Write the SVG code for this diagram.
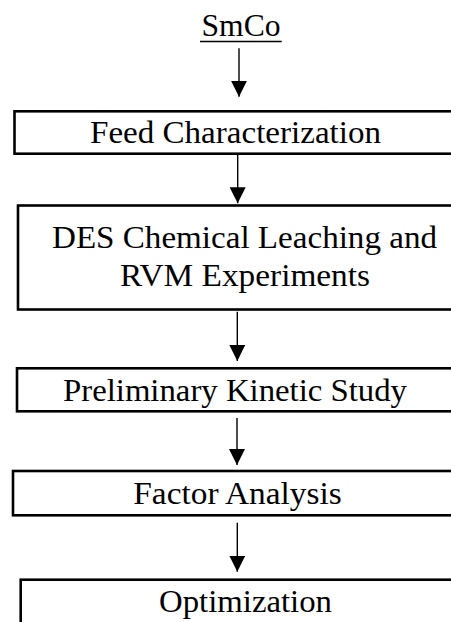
<svg xmlns="http://www.w3.org/2000/svg" width="451" height="622" viewBox="0 0 451 622">
<style>
  .box { fill: #ffffff; stroke: #000000; stroke-width: 2.6; }
  .lbl { font-family: "Liberation Serif", "Times New Roman", serif; font-size: 32px; fill: #000000; }
  .conn { stroke: #000000; stroke-width: 1.4; fill: none; marker-end: url(#arrow); }
</style>
<defs>
  <marker id="arrow" markerUnits="userSpaceOnUse" viewBox="0 0 16 16" markerWidth="16" markerHeight="16" refX="16" refY="8" orient="auto">
    <path d="M0,0 L16,8 L0,16 Z" fill="#000000"/>
  </marker>
</defs>
<rect x="0" y="0" width="451" height="622" fill="#ffffff"/>

<g id="node-smco">
  <text class="lbl" x="201.5" y="36" textLength="79" lengthAdjust="spacingAndGlyphs">SmCo</text>
  <line x1="200" y1="41.5" x2="281.7" y2="41.5" stroke="#000000" stroke-width="1.5"/>
</g>

<g id="node-feed">
  <rect class="box" x="14.5" y="111.3" width="450" height="42.4"/>
  <text class="lbl" x="90" y="142.7" textLength="291" lengthAdjust="spacingAndGlyphs">Feed Characterization</text>
</g>

<g id="node-des">
  <rect class="box" x="18" y="205.5" width="450" height="104"/>
  <text class="lbl" x="52" y="248.3" textLength="385" lengthAdjust="spacingAndGlyphs">DES Chemical Leaching and</text>
  <text class="lbl" x="120" y="285.5" textLength="250" lengthAdjust="spacingAndGlyphs">RVM Experiments</text>
</g>

<g id="node-kinetic">
  <rect class="box" x="17" y="368.3" width="450" height="43"/>
  <text class="lbl" x="63" y="400.7" textLength="344" lengthAdjust="spacingAndGlyphs">Preliminary Kinetic Study</text>
</g>

<g id="node-factor">
  <rect class="box" x="13" y="471" width="450" height="44.3"/>
  <text class="lbl" x="133.3" y="503.5" textLength="208.4" lengthAdjust="spacingAndGlyphs">Factor Analysis</text>
</g>

<g id="node-opt">
  <rect class="box" x="20.7" y="579.7" width="450" height="60"/>
  <text class="lbl" x="159" y="611.7" textLength="173" lengthAdjust="spacingAndGlyphs">Optimization</text>
</g>

<g id="connectors">
  <line class="conn" x1="239" y1="48.3" x2="239" y2="96.7"/>
  <line class="conn" x1="237.7" y1="154.5" x2="237.7" y2="203.3"/>
  <line class="conn" x1="237.3" y1="311.7" x2="237.3" y2="361"/>
  <line class="conn" x1="237" y1="418" x2="237" y2="465"/>
  <line class="conn" x1="237.3" y1="522.7" x2="237.3" y2="571.7"/>
</g>
</svg>
